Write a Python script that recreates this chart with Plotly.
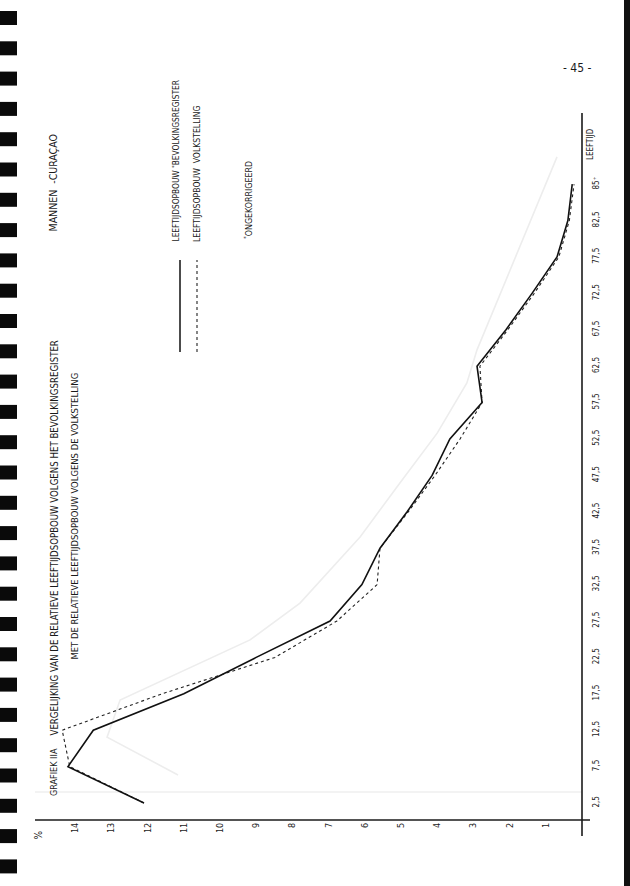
import plotly.graph_objects as go

# ---------------- data ----------------
ages = ["2,5", "7,5", "12,5", "17,5", "22,5", "27,5", "32,5", "37,5", "42,5",
        "47,5", "52,5", "57,5", "62,5", "67,5", "72,5", "77,5", "82,5", "85⁺"]
bevolkingsregister = [12.1, 14.2, 13.5, 11.0, 9.0, 6.96, 6.08, 5.58, 4.83,
                      4.14, 3.65, 2.76, 2.9, 2.1, 1.38, 0.69, 0.39, 0.27]
volkstelling = [12.1, 14.15, 14.36, 11.6, 8.48, 6.77, 5.66, 5.58, 4.8,
                4.06, 3.37, 2.76, 2.82, 2.05, 1.32, 0.64, 0.35, 0.22]
pct_ticks = list(range(1, 15))

# faint show-through of the chart printed on the back of the page
ghost_pos = [0.77, 1.81, 2.83, 3.6, 4.48, 5.49, 7.31, 8.79, 10.16, 11.54, 12.45, 17.75]
ghost_val = [11.16, 13.12, 12.76, 11.1, 9.17, 7.79, 6.13, 5.03, 4.0, 3.18, 2.9, 0.69]

# ---------------- layout helpers ----------------
W, H = 630, 886
L, R, T, B = 35, 590, 113, 820   # plot area in pixels (age axis sits at x=582)
AXIS_X = 582


def px(x):
    return (x - L) / (R - L)


def py(y):
    return (B - y) / (B - T)


FONT = "DejaVu Sans Condensed"
INK = "#1a1a1a"

idx = list(range(len(ages)))

fig = go.Figure()
fig.add_trace(go.Scatter(x=ghost_val, y=ghost_pos, mode="lines",
                         line=dict(color="#ededed", width=1.6),
                         hoverinfo="skip", showlegend=False))
fig.add_trace(go.Scatter(x=volkstelling, y=idx, mode="lines",
                         name="Leeftijdsopbouw volkstelling",
                         line=dict(color="#222222", width=1.1, dash="dot"),
                         showlegend=False))
fig.add_trace(go.Scatter(x=bevolkingsregister, y=idx, mode="lines",
                         name="Leeftijdsopbouw bevolkingsregister",
                         line=dict(color="#111111", width=1.6),
                         showlegend=False))

shapes = []
# binder holes on the left edge
for i in range(29):
    cy = 18 + i * 30.3
    shapes.append(dict(type="rect", xref="paper", yref="paper",
                       x0=px(0), x1=px(17), y0=py(cy + 7), y1=py(cy - 7),
                       fillcolor="#0a0a0a", line=dict(width=0), layer="above"))
# dark right page edge
shapes.append(dict(type="rect", xref="paper", yref="paper",
                   x0=px(624), x1=px(630), y0=py(886), y1=py(0),
                   fillcolor="#111111", line=dict(width=0), layer="above"))
# faint show-through axis line
shapes.append(dict(type="line", xref="paper", yref="paper",
                   x0=px(35), x1=px(582), y0=py(792), y1=py(792),
                   line=dict(color="#efefef", width=1.5), layer="below"))
# age axis (vertical) and percentage axis (horizontal)
shapes.append(dict(type="rect", xref="paper", yref="paper",
                   x0=px(AXIS_X - 0.8), x1=px(AXIS_X + 0.8), y0=py(836), y1=py(113),
                   fillcolor=INK, line=dict(width=0), layer="above"))
shapes.append(dict(type="line", xref="paper", yref="paper",
                   x0=px(35), x1=px(590), y0=py(820), y1=py(820),
                   line=dict(color=INK, width=1.4), layer="above"))
# legend line samples (vertical, page rotated)
shapes.append(dict(type="line", xref="paper", yref="paper",
                   x0=px(180), x1=px(180), y0=py(352), y1=py(260),
                   line=dict(color="#111111", width=1.5)))
shapes.append(dict(type="line", xref="paper", yref="paper",
                   x0=px(197), x1=px(197), y0=py(352), y1=py(260),
                   line=dict(color="#222222", width=1.1, dash="dot")))


def rot(text, x, y0, size, anchor="bottom"):
    return dict(text=text, xref="paper", yref="paper", x=px(x), y=py(y0),
                xanchor="center", yanchor=anchor, textangle=-90,
                showarrow=False, font=dict(family=FONT, size=size, color=INK))


annotations = [
    rot("GRAFIEK IIA", 54, 798, 9),
    rot("VERGELIJKING VAN DE RELATIEVE LEEFTIJDSOPBOUW VOLGENS HET BEVOLKINGSREGISTER",
        54, 738, 9.6),
    rot("MET DE RELATIEVE LEEFTIJDSOPBOUW VOLGENS DE VOLKSTELLING", 74, 662, 9.4),
    rot("MANNEN  -CURAÇAO", 52, 234, 10.5),
    rot("LEEFTIJDSOPBOUW <sup>*</sup>BEVOLKINGSREGISTER", 176, 244, 8.3),
    rot("LEEFTIJDSOPBOUW  VOLKSTELLING", 197, 244, 8.6),
    rot("<sup>*</sup>ONGEKORRIGEERD", 248, 241, 8.8),
    rot("LEEFTIJD", 591, 162, 8),
    rot("%", 38, 842, 10),
    dict(text="- 45 -", xref="paper", yref="paper", x=px(577), y=py(68),
         xanchor="center", yanchor="middle", showarrow=False,
         font=dict(family=FONT, size=12, color=INK)),
]

# value axis: 0 % at x=582 px, 36.2 px per percent
x_hi = (AXIS_X - L) / 36.2
x_lo = -(R - AXIS_X) / 36.2

fig.update_layout(
    template="none",
    width=W, height=H,
    margin=dict(l=L, r=W - R, t=T, b=H - B, pad=0, autoexpand=False),
    paper_bgcolor="#ffffff", plot_bgcolor="rgba(0,0,0,0)",
    showlegend=False,
    shapes=shapes, annotations=annotations,
    xaxis=dict(range=[x_hi, x_lo], tickvals=pct_ticks,
               ticktext=[str(v) for v in pct_ticks], tickangle=-90,
               showgrid=False, zeroline=False, showline=False, ticks="",
               automargin=False,
               tickfont=dict(family=FONT, size=9, color=INK), fixedrange=True),
    yaxis=dict(range=[-(B - 803) / 36.4, (803 - T) / 36.4], tickvals=idx,
               ticktext=ages, tickangle=-90, side="right",
               showgrid=False, zeroline=False, showline=False, ticks="",
               automargin=False, ticklabelstandoff=0,
               tickfont=dict(family=FONT, size=8, color=INK), fixedrange=True),
)

fig.write_html(
    "out.html",
    config={"displayModeBar": False, "staticPlot": True},
    post_script="document.body.style.margin='0';document.body.style.overflow='hidden';",
)
